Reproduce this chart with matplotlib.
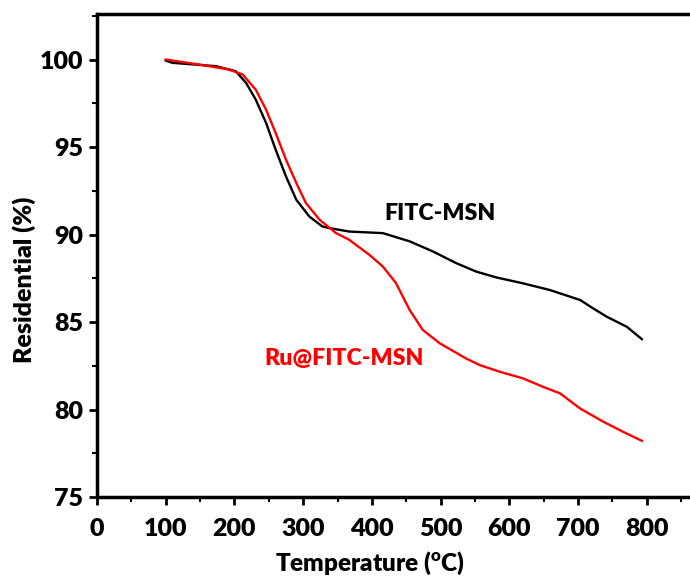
import matplotlib
matplotlib.use('Agg')
import matplotlib.pyplot as plt
from matplotlib.ticker import MultipleLocator

plt.rcParams['font.family'] = ['Lato', 'DejaVu Sans']
plt.rcParams['mathtext.fontset'] = 'custom'
plt.rcParams['mathtext.rm'] = 'Lato'
plt.rcParams['mathtext.bf'] = 'Lato:heavy'

# FITC-MSN (black)
t_fitc = [100, 110, 173, 202, 217, 231, 246, 260, 275, 290, 309, 328, 338, 367,
          416, 455, 489, 523, 552, 581, 620, 659, 703, 722, 742, 771, 793]
w_fitc = [99.94, 99.81, 99.62, 99.33, 98.66, 97.71, 96.38, 94.85, 93.32, 91.99,
          91.03, 90.46, 90.37, 90.17, 90.08, 89.61, 89.03, 88.36, 87.88, 87.55,
          87.21, 86.83, 86.26, 85.78, 85.30, 84.73, 84.02]

# Ru@FITC-MSN (red)
t_ru = [100, 149, 192, 212, 231, 246, 260, 275, 290, 304, 324, 348, 367, 397,
        416, 435, 455, 474, 499, 537, 557, 586, 620, 649, 674, 703, 737, 766, 793]
w_ru = [100.0, 99.71, 99.43, 99.14, 98.28, 97.14, 95.8, 94.28, 92.95, 91.8,
        90.84, 90.08, 89.7, 88.82, 88.17, 87.23, 85.69, 84.55, 83.78, 82.92,
        82.54, 82.16, 81.78, 81.3, 80.92, 80.06, 79.3, 78.72, 78.21]

fig = plt.figure(figsize=(6.9, 5.77), dpi=100)
ax = fig.add_axes([0.1406, 0.1386, 0.8594, 0.8371])

ax.plot(t_fitc, w_fitc, color='black', lw=1.7)
ax.plot(t_ru, w_ru, color='#ff0000', lw=1.7)

ax.text(418, 91.18, 'FITC-MSN', color='black', fontsize=16.7, fontweight='heavy',
        va='center', ha='left')
ax.text(243, 82.94, 'Ru@FITC-MSN', color='#ff0000', fontsize=16.7, fontweight='heavy',
        va='center', ha='left')

ax.set_xlim(0, 863)
ax.set_ylim(75, 102.6)
ax.xaxis.set_major_locator(MultipleLocator(100))
ax.xaxis.set_minor_locator(MultipleLocator(50))
ax.yaxis.set_major_locator(MultipleLocator(5))
ax.yaxis.set_minor_locator(MultipleLocator(2.5))

for s in ['left', 'bottom', 'top']:
    ax.spines[s].set_linewidth(2.5)
ax.spines['right'].set_visible(False)

ax.tick_params(which='major', direction='out', length=6, width=2, labelsize=18)
ax.tick_params(axis='x', which='major', pad=9)
ax.tick_params(axis='y', which='major', pad=4)
ax.tick_params(which='minor', direction='out', length=3.5, width=1.5)
ax.tick_params(which='both', top=False, right=False)
for lab in ax.get_xticklabels() + ax.get_yticklabels():
    lab.set_fontweight('heavy')

ax.set_xlabel(r'Temperature ($\mathbf{^o}$C)', fontsize=17.5, fontweight='heavy')
ax.set_ylabel('Residential (%)', fontsize=18, fontweight='heavy')
ax.xaxis.set_label_coords(0.460, -0.137)
ax.yaxis.set_label_coords(-0.123, 0.449)
ax.xaxis.label.set_va('center')
ax.yaxis.label.set_va('center')

fig.savefig('out.png', dpi=100)
